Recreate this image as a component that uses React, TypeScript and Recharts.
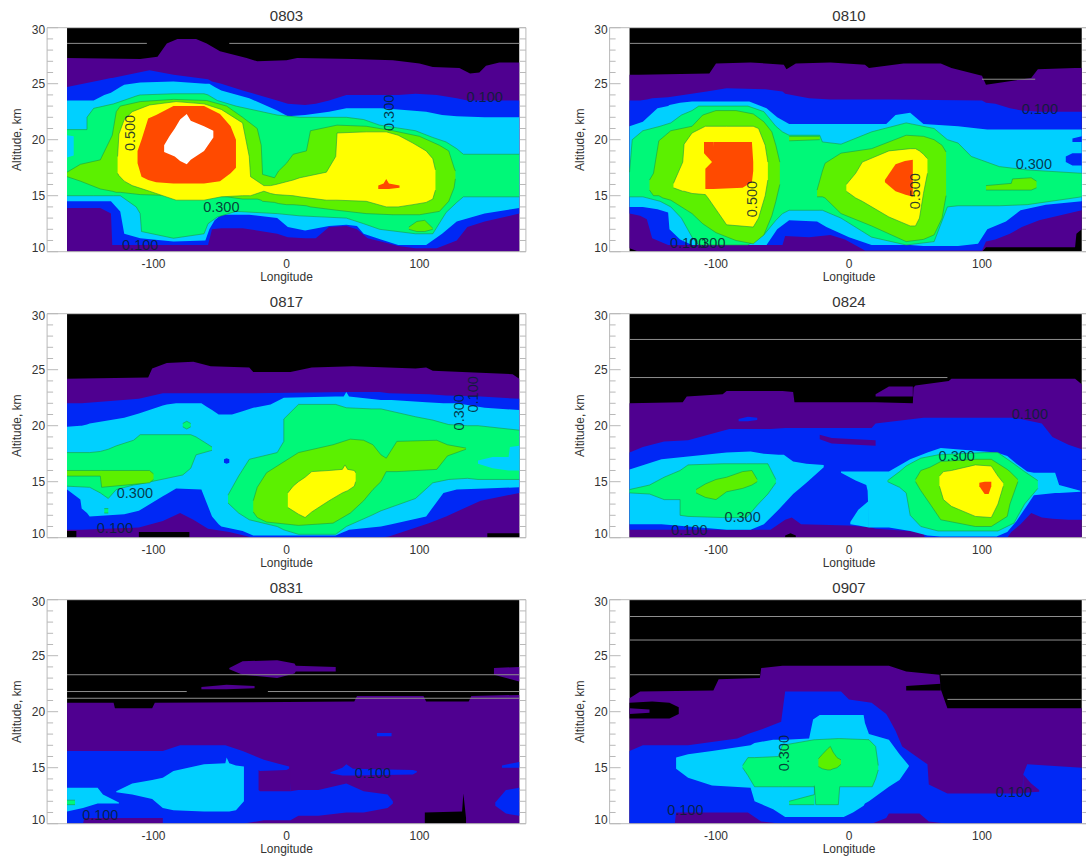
import React from "react";
import { ComposedChart, Area, Line, XAxis, YAxis, ReferenceDot } from "recharts";

type Pt = [number, number, number];

const BLACK = "#000000", PURPLE = "#4f0090", BLUE = "#0028f5", CYAN = "#00d0ff", SPRING = "#00f878", LIME = "#5cf000", YELLOW = "#ffff00", ORANGE = "#ff4a00", WHITE = "#ffffff";

const lonTicks = [-100, 0, 100];
const altTicks = [10, 11, 12, 13, 14, 15, 16, 17, 18, 19, 20, 21, 22, 23, 24, 25, 26, 27, 28, 29, 30];
const field: Pt[] = [[-165, 10, 30], [175, 10, 30]];

// ---- 0803
const a_purple: Pt[] = [[-165,10,27.3],[-110,10,27.2],[-97,10,27.4],[-90,10,28.6],[-82,10,29],[-68,10,29],[-60,10,28.6],[-50,10,27.9],[-30,10,27.3],[-22,10,27],[0,10,27.1],[8,10,27.3],[50,10,27.2],[80,10,27.1],[100,10,26.8],[110,10,26.5],[130,10,26.4],[138,10,25.9],[145,10,26],[150,10,26.6],[160,10,26.9],[175,10,26.9]];
const a_blue: Pt[] = [[-165,13.9,24.7],[-140,13.9,25.3],[-132,13.4,25.5],[-131,10.6,25.5],[-103,10.6,26.2],[-85,10.6,25.8],[-59,10.6,25.4],[-56,12,25.2],[-49,12.1,25],[-33,12.1,24.4],[-7,11.6,23.5],[1,11.3,23.2],[14,11.2,23.1],[22,11.2,23.2],[32,12.2,23.5],[45,12.3,24],[53,12,24],[61,11.2,24],[71,10.9,24],[84,10.5,24],[97,10.3,24.1],[113,10.3,24],[128,11,23.7],[136,12.2,23.5],[149,12.7,23.5],[175,13.4,23.5]];
const a_cyan: Pt[] = [[-165,14.5,23.5],[-145,14.5,23.5],[-137,14.5,24],[-132,14.5,24.2],[-125,13.6,24.7],[-122,11.6,24.9],[-110,11.2,25.1],[-85,10.9,25.2],[-61,11,25],[-58,12,25],[-54,12.8,24.7],[-49,13.3,24.4],[-28,13.3,23.7],[-7,13,22.6],[1,12.2,22.1],[14,11.9,22.2],[32,12.3,22.5],[45,12.4,22.8],[53,12.3,22.8],[58,11.6,22.8],[71,11.1,22.8],[84,10.6,22.7],[105,10.6,22.5],[117,11.6,22.2],[128,12.7,22.1],[149,13.4,22],[175,13.9,22]];
const a_spring: Pt[] = [[-165,15,20.9],[-150,15,20.9],[-150,15,22],[-145,15,22.8],[-130,15,23.2],[-125,15,23.4],[-113,14,23.9],[-110,13.4,24],[-109,11.8,24],[-85,11.2,24.1],[-62,11.6,24.1],[-59,12.5,24],[-52,13.1,23.5],[-38,13.6,23],[-7,13.4,22.2],[10,13.2,22],[45,13,22],[58,12.5,21.8],[70,12,21.3],[97,11.6,20.8],[110,11.6,20.2],[120,13.5,19.8],[128,14.4,19.2],[133,14.9,18.7],[175,14.9,18.7]];
const a_cyanNotch: Pt[] = [[-165,18.4,20.4],[-160,18.6,20.3]];
const a_limeMain: Pt[] = [[-165,16.7,17.1],[-155,16.3,17.8],[-140,15.6,18.2],[-131,15.4,20.4],[-128,15.3,22.5],[-125,15.3,23],[-110,15.1,23.4],[-85,15,23.6],[-60,15,23.5],[-45,14.9,23],[-33,14.7,22],[-22,14.7,21],[-19,14.6,19.5],[-18,14.5,16.9],[-9,14.4,16.6],[-6,14.3,17.2],[0,14.2,17.9],[5,14.2,18.7],[15,14.1,19],[18,14,20.8],[38,13.7,21.3],[60,13.4,21.2],[80,13.3,20.8],[100,13.3,20.3],[115,13.6,19.5],[122,14.5,19],[126,15.7,17.5],[127,16.5,17.2]];
const a_limeBlob: Pt[] = [[92,12,12.2],[98,11.8,12.7],[104,11.8,12.8],[110,12,12.1]];
const a_yellow: Pt[] = [[-127,17,18.5],[-126,16.8,20.5],[-122,16.3,21.8],[-116,15.9,22.5],[-103,15.4,23.1],[-83,14.6,23.4],[-62,14.6,23.2],[-49,14.9,22.7],[-33,15,21.5],[-28,15,18.5],[-27,15,16.7],[-17,15.4,15.9],[-12,15.2,15.9],[-8,15.1,16],[5,15,16.4],[10,14.9,16.6],[30,14.6,17.1],[37,14.6,18.5],[38,14.6,20.6],[60,14.5,20.7],[75,14,20.7],[84,14,20.4],[95,14.2,19.7],[105,14.4,19],[110,14.7,18.3],[112,15.5,17.3]];
const a_orange: Pt[] = [[-112,17.9,19],[-109,16.7,20],[-104,16.4,21.9],[-98,16.2,22.2],[-85,16.1,23],[-62,16.1,23],[-50,16.3,22.3],[-42,17,21.2],[-38,17.5,20]];
const a_orangeSmall: Pt[] = [[69,15.6,15.9],[73,15.6,16.1],[75,15.6,16.5],[77,15.6,16.1],[85,15.7,15.9]];
const a_white: Pt[] = [[-92,18.9,19.5],[-88,18.7,20.3],[-84,18.5,21],[-80,18.1,21.8],[-75,17.8,22.3],[-72,18.2,21.7],[-62,19,21.2],[-55,20.2,20.8]];
const a_streaks = [[-165,-105,28.6],[-43,175,28.6]];
const a_labels: [string, number, number, number][] = [["0.500",-118,20.6,-90],["0.300",77,22.4,-90],["0.300",-49,14,0],["0.100",149,23.8,0],["0.100",-110,10.6,0]];

// ---- 0810
const b_purple: Pt[] = [[-165,10.3,25.8],[-158,10,25.8],[-105,10,25.9],[-100,10,26.8],[-74,10,26.9],[-49,10,26.7],[-47,10,26.3],[-40,10,26.8],[-14,10,26.9],[12,10,26.7],[15,10,26.4],[41,10,26.8],[69,10,26.8],[77,10,26.4],[100,10,25.7],[103,10.4,24.9],[137,10.4,25.5],[142,10.4,26.3],[170,10.4,26.4],[171,11.6,26.4],[175,12,26.4]];
const b_blue: Pt[] = [[-165,13.4,23.5],[-157,13.2,23.5],[-152,12.9,23.6],[-148,11.2,23.7],[-136,10.6,23.8],[-107,10.6,24.3],[-92,10.6,24.6],[-63,10.6,24.5],[-50,10.6,24.3],[-48,11.4,24.1],[-30,11.3,23.7],[-14,11.5,23.6],[-3,11.1,23.6],[12,10.1,23.6],[30,10.1,23.6],[100,10.1,23.5],[103,10.9,23.3],[110,11.1,23.2],[121,11.6,22.8],[130,12.2,22.6],[143,12.8,22.5],[175,13.7,22.5]];
const b_cyan: Pt[] = [[-165,14,21.2],[-155,14,21.6],[-144,13.8,22.8],[-136,13.5,23],[-135,12,23.1],[-127,11.1,23.3],[-118,10.6,23.4],[-75,10.6,23.4],[-62,10.6,22.8],[-54,12,22],[-45,12.8,21.4],[-24,12.7,21.4],[-17,12.2,21.4],[0,11.3,21.4],[17,10.6,21.4],[28,10.6,21.4],[35,10.6,22.2],[46,10.6,22.4],[56,10.5,21.4],[82,10.5,21.2],[97,10.7,21],[104,12,20.9],[118,12.7,20.9],[129,13.7,20.9],[148,14.2,20.9],[175,14.5,20.9]];
const b_blueA: Pt[] = [[168,19.8,20.1],[175,19.8,20.3]];
const b_blueB: Pt[] = [[163,18,18.5],[168,17.7,18.8],[175,17.7,18.8]];
const b_spring: Pt[] = [[-165,14.9,17.1],[-163,14.9,20],[-155,14.9,20.8],[-142,14.5,21.2],[-134,14,21.5],[-126,13,22.2],[-118,11.3,22.6],[-113,10.6,23],[-76,10.6,23],[-64,11.5,22.5],[-55,12.8,21.2],[-50,13.4,20.7],[-45,13.7,20.4],[-22,13.7,20.4],[-20,13.7,19.8],[-6,13,19.6],[17,11.3,20.7],[43,10.6,21.5],[64,10.9,21],[74,14,20],[82,14.1,19.7],[92,14.1,18.5],[113,14.1,17.6],[134,14.2,17.3],[175,14.9,17]];
const b_lime1: Pt[] = [[-150,15.5,16.4],[-147,15,17],[-143,15,19.9],[-140,14.8,20.2],[-134,14.6,20.8],[-118,13.4,21.2],[-110,12.5,22.2],[-100,11.7,22.6],[-85,11,22.6],[-72,10.7,22.3],[-64,11.5,21.6],[-58,13.2,20.7],[-55,14.5,19.5],[-52,16,18]];
const b_limeStrip: Pt[] = [[-45,19.9,20.3],[-22,20,20.3]];
const b_lime2: Pt[] = [[-24,14.9,15.5],[-20,14.9,17.2],[-18,14.8,17.9],[-6,13.4,18.8],[17,12.3,19.2],[43,10.9,20.4],[56,11.1,20.3],[64,11.5,20],[70,13,19.5],[73,15,18.9]];
const b_lime3: Pt[] = [[103,15.5,15.9],[122,15.5,16.1],[123,15.5,16.5],[137,15.5,16.6],[141,15.7,16.3]];
const b_yellow1: Pt[] = [[-132,15.7,16.1],[-125,15.4,18],[-124,15.4,19.6],[-118,15.2,20.6],[-108,15.1,21.2],[-106,14.8,21.2],[-92,12.4,21.2],[-72,12.2,21.2],[-68,13,21],[-63,15,19.5],[-61,16.4,18]];
const b_yellow2: Pt[] = [[-2,15.4,16],[5,14.8,17],[10,14.5,18],[30,13.1,19],[46,12.3,19.2],[50,12.3,19.2],[53,13,19],[56,15.2,18.7],[59,17,18.3]];
const b_orangeTop: Pt[] = [[-109,18.8,19.8],[-103,18,19.8],[-102,17,19.8]];
const b_orangeMain: Pt[] = [[-108,15.6,17.4],[-103,15.6,18],[-102,15.6,19.8],[-80,15.7,19.8],[-76,16,19.8],[-73,16.2,19.8],[-72,17.2,18]];
const b_orange2: Pt[] = [[27,16.2,16.4],[35,15.4,17.8],[42,15.1,18.1],[48,14.9,18.2]];
const b_streaks = [[-165,175,28.6],[100,140,25.4]];
const b_labels: [string, number, number, number][] = [["0.100",143.5,22.7,0],["0.300",139,17.8,0],["0.500",-73,14.7,-90],["0.500",50,15.4,-90],["0.300",-106.5,10.8,0],["0.100",-121,10.8,0]];

// ---- 0817
const c_purple: Pt[] = [[-165,10,24.2],[-104,10,24.3],[-101,10,25.1],[-90,10,25.6],[-70,10,25.7],[-57,10,25.3],[-28,10,25.2],[-25,10,24.8],[3,10,24.8],[19,10,25.2],[50,10,25.3],[97,10,25.1],[105,10,25.2],[110,10,24.9],[150,10,24.7],[170,10,24.6],[175,10,24.2]];
const c_black1: Pt[] = [[-165,10,10.6],[-158,10,10.6]];
const c_black2: Pt[] = [[-111,10,10.5],[-73,10,10.5]];
const c_black3: Pt[] = [[151,10,10.4],[175,10,10.4]];
const c_blue: Pt[] = [[-165,10.7,22],[-154,10.7,22],[-111,10.9,22.4],[-93,11.5,22.9],[-80,12.2,22.9],[-70,11.6,22.9],[-59,10.8,22.9],[-43,10.5,22.9],[-25,10,22.9],[45,10,23],[70,10,23],[77,10.1,22.9],[107,11.3,22.8],[120,11.9,22.7],[146,13.3,22.6],[175,14,22.4]];
const c_cyan: Pt[] = [[-165,14.3,19.9],[-155,13.4,20],[-154,12.6,20],[-150,12.2,20.1],[-148,11.9,20.2],[-122,12.1,20.7],[-111,12.4,21.1],[-93,13.7,21.8],[-90,13.9,21.9],[-83,14.4,22],[-64,14.3,22],[-60,13.1,21.7],[-56,11.9,21.4],[-51,11.2,21],[-49,11,21],[-41,10.8,21],[-33,10.6,21.3],[-25,10.2,21.6],[-12,10.2,21.9],[-2,10.2,22.5],[37,10.2,22.6],[43,10.5,22.6],[45,10.6,23],[47,10.7,22.6],[71,11,22.3],[79,11.2,22.3],[105,11.9,22.1],[118,14,22],[128,14.3,22],[149,14.4,21.6],[175,14.5,21.4]];
const c_springL: Pt[] = [[-165,14.6,17.6],[-148,14.5,17.6],[-140,14,17.7],[-134,13.5,17.9],[-128,14.3,18.2],[-115,14.7,18.7],[-110,14.8,19.2],[-78,15.6,19.2],[-72,16.2,19.2],[-68,17.4,19],[-56,17.8,18.1]];
const c_springDot: Pt[] = [[-78,19.9,20.2],[-75,19.7,20.4],[-72,19.9,20.2]];
const c_springDot2: Pt[] = [[-137,12.2,12.6],[-134,12.2,12.6]];
const c_blueDot: Pt[] = [[-47,16.7,17],[-45,16.6,17.1],[-43,16.7,17]];
const c_limeL: Pt[] = [[-165,15.5,16],[-140,15.5,16],[-139,14.5,16],[-103,14.9,16],[-100,15.2,15.7]];
const c_springR: Pt[] = [[-44,13.1,13.8],[-36,12.2,15.5],[-28,11.6,17],[-7,11,17.6],[-2,10.7,18.6],[-2,10.7,20.6],[9,10.3,21.9],[37,10.3,21.9],[45,11,21.6],[64,12,21.5],[71,12.4,21.5],[97,13.5,20.8],[110,14.9,20.5],[122,15.2,20.1],[136,15.3,20],[144,15.2,20],[175,15.2,19.6]];
const c_cyanNotch: Pt[] = [[144,16.6,16.9],[155,16.2,17.2],[167,16,17.2],[168,16,18.1],[175,16,18.2]];
const c_limeR: Pt[] = [[-25,12.3,13.3],[-22,11.8,14.5],[-15,11.4,15.8],[9,11.1,17.6],[35,11.3,18.3],[48,12.2,18.8],[58,13.3,18.7],[65,14.3,18.3],[71,15,17.4],[75,15.9,17.1],[83,15.9,18.6],[113,16.1,18.7],[121,17.3,18.3],[135,17.9,18]];
const c_yellow: Pt[] = [[1,12.7,14],[5,12.4,14.6],[9,12.1,15],[14,11.8,15.4],[19,12.3,15.9],[32,13.3,16],[42,14,16.1],[44,14.1,16.5],[46,14.2,16.1],[51,14.6,16],[52,15,15.8]];
const c_labels: [string, number, number, number][] = [["0.300",130,21.2,-90],["0.100",140,22.8,-90],["0.300",-114,14,0],["0.100",-129,10.9,0]];

// ---- 0824
const d_purple: Pt[] = [[-165,10,22],[-125,10,22.1],[-122,10,22.6],[-95,10,22.8],[-92,10,23.1],[-50,10,23.1],[-42,10,23],[-41,10,22.1],[20,10,22.1],[48,10,22],[48.5,10,23.4],[50,10,23.6],[75,10,24],[77,10,24.2],[170,10,24.2],[175,10,23.7]];
const d_purpleTop: Pt[] = [[20,22.6,22.8],[30,22.6,23.5],[48,22.6,23.5]];
const d_blackFoot: Pt[] = [[-48,10,10.2],[-44,10,10.4],[-40,10,10.2]];
const d_blue: Pt[] = [[-165,10.7,17.6],[-155,10.7,18.1],[-139,10.7,18.6],[-121,10.7,18.7],[-90,10.7,19.7],[-59,10.7,19.7],[-48,11.6,19.8],[-43,11.8,19.8],[-36,11.2,19.8],[0,11.1,19.8],[17,10.9,19.8],[20,10.8,20.2],[56,10.5,20.7],[57,10,20.7],[119,10,20.7],[122,10.5,20.7],[129,11.2,20.6],[137,12.2,20.4],[145,11.8,20.2],[153,11.7,19],[165,11.6,18.3],[175,11.6,17.9]];
const d_purpleIn: Pt[] = [[-22,18.8,19.2],[-13,18.4,18.9],[20,18.2,18.7]];
const d_bluePatch: Pt[] = [[-83,20.4,20.6],[-76,20.4,20.8],[-69,20.5,20.7]];
const d_cyanL: Pt[] = [[-165,11.2,16.1],[-141,11.2,17],[-92,10.7,17.6],[-74,10.7,17.7],[-64,11.2,17.5],[-53,12.5,17.4],[-49,13,17.4],[-42,13.9,16.8],[-32,14.9,16.6],[-19,16.3,16.5]];
const d_springL: Pt[] = [[-165,14,14.3],[-150,13.9,14.7],[-139,13.4,15.4],[-127,13.4,16],[-127,12,16],[-121,11.9,16.5],[-95,11.8,16.6],[-77,11.8,16.6],[-69,12.9,16.6],[-61,13.9,16.6],[-55,14.9,15.2]];
const d_limeL: Pt[] = [[-115,14,14.3],[-108,13.6,14.8],[-100,13.4,15.2],[-92,14.1,15.4],[-80,14.4,15.9],[-73,14.7,16],[-69,15,15.2]];
const d_cyanRLow: Pt[] = [[1,11.2,11.4],[7,11.1,12.5],[15,10.9,13.3]];
const d_cyanR: Pt[] = [[-6,15.8,15.9],[5,15.1,15.9],[13,14.7,15.9],[14,14.2,15.9],[15,10.9,15.9],[30,10.9,15.9],[46,10.6,17],[59,10.2,17.6],[69,10.1,18],[111,10.1,17.6],[119,10.5,17.3],[126,11.5,16.6],[134,12.9,15.9],[139,13.8,15.8],[155,14,15.8],[158,14,14.7],[174,14.1,14.2]];
const d_springR: Pt[] = [[29,15,15.1],[38,14.5,15.9],[43,14,16.4],[46,12,16.6],[54,11,17.1],[67,10.6,17.4],[102,10.6,17.6],[112,10.6,17.6],[124,11.3,16.6],[132,13,15.9],[142,14.4,15.1]];
const d_limeR: Pt[] = [[50,15,15.2],[54,14.2,16],[61,13,16.3],[69,11.6,16.8],[95,11,17],[107,11,17],[119,11.9,16.1],[121,13,15.9],[127,15,15.2]];
const d_yellow: Pt[] = [[68,14.6,15.5],[71,13.4,15.9],[77,12.8,16],[95,11.9,16.5],[107,11.8,16.4],[112,13,15.5],[116,14.6,14.9]];
const d_orange: Pt[] = [[98,14.6,14.9],[102,13.9,15],[105,13.9,15],[107,14.6,15]];
const d_streaks = [[-165,175,27.7],[-165,74,24.3]];
const d_labels: [string, number, number, number][] = [["0.100",136,21,0],["0.300",81,17.3,0],["0.300",-80,11.85,0],["0.100",-120,10.65,0]];

// ---- 0831
const e_purple: Pt[] = [[-165,10,20.8],[-130,10,20.8],[-129,10,20.3],[-101,10,20.3],[-99,10,20.8],[51,10,20.9],[53,10,21.4],[103,10,21.4],[105,10,20.9],[137,10,20.9],[139,10,21.4],[175,10,21.5]];
const e_purpleB: Pt[] = [[-43,23.8,23.9],[-33,23.3,24.5],[-7,23,24.6],[6,23.4,24.3],[7,23.6,24.1],[37,23.6,24]];
const e_purpleC: Pt[] = [[-64,22,22.2],[-45,22,22.4],[-24,22.1,22.3]];
const e_purpleD: Pt[] = [[156,23.3,23.9],[175,22.7,24]];
const e_blackFoot: Pt[] = [[104,10,11],[132,10,11.1],[133,10,12.7],[135,10,10.5]];
const e_blue: Pt[] = [[-165,10,16.5],[-153,10,16.5],[-152,10.5,16.5],[-93,10.5,16.5],[-93,10,16.5],[-80,10,17],[-46,10,17],[-33,10,16.5],[-17,10.3,15.7],[2,10.3,15.1],[3,10.3,12.9],[9,10.7,13],[24,10.7,13],[45,11,13.6],[58,11,12.9],[76,11.4,12.6],[80,11.8,12]];
const e_notch: Pt[] = [[-21,13,14.8],[-20,12.9,14.7],[0,12.9,14.8],[3,12.9,15]];
const e_blueMid: Pt[] = [[33,14.5,14.6],[42,14.3,15],[45,14.3,15.3],[50,14.3,14.9],[95,14.4,14.8],[98,14.6,14.7]];
const e_blueR: Pt[] = [[157,11.6,11.9],[165,10.9,13],[175,10.7,13.2]];
const e_blueR2: Pt[] = [[162,15,15.2],[170,15,15.4],[175,15,15.5]];
const e_blueR3: Pt[] = [[68,17.8,18.1],[79,17.8,18.1]];
const e_cyan: Pt[] = [[-128,12.8,12.9],[-116,12.6,13.6],[-101,12.2,13.9],[-93,11.4,14.1],[-85,11.2,14.7],[-62,11.1,15.3],[-46,11.1,15.4],[-45,11.1,15.9],[-43,11.1,15.4],[-38,11.2,15.2],[-32,12,15.1]];
const e_cyanL: Pt[] = [[-165,11.1,13.2],[-153,11.4,13.2],[-142,11.8,13.2],[-138,11.8,12.6],[-126,11.8,11.9]];
const e_spring: Pt[] = [[-165,11.7,12.1],[-159,11.7,12.1]];
const e_streaks = [[-165,175,23.3],[-165,-75,21.8],[-14,175,21.8],[-165,175,21.2]];
const e_labels: [string, number, number, number][] = [["0.100",65,14.5,0],["0.100",-140,10.8,0]];

// ---- 0907
const f_purple: Pt[] = [[-165,10,21.2],[-157,10,21.8],[-102,10,21.9],[-98,10,22.9],[-67,10,23],[-66,10,23.9],[-50,10,24.1],[30,10,24.1],[43,10,23.6],[68,10,23.3],[69,10,22],[74,10,20.3],[175,10,20.3]];
const f_blackIn: Pt[] = [[-165,19.4,20.8],[-148,19.4,20.9],[-135,19.4,20.8],[-128,19.8,20.4]];
const f_finger: Pt[] = [[-165,19.8,20.3],[-150,19.9,20.2]];
const f_blackTail: Pt[] = [[43,21.9,22.3],[69,21.9,22.5]];
const f_blue: Pt[] = [[-165,10,16.5],[-155,10,17],[-131,10,17],[-130,11,17],[-121,11,17],[-84,11,17.6],[-76,11,18],[-66,10.2,18.4],[-51,10,19.1],[-48,10,21.8],[-6,10,21.8],[0,10,21.1],[17,10,20.8],[28,10.5,19.8],[30,10.9,19.4],[35,10.9,18.3],[40,10.9,16.9],[53,10.9,15.8],[59,10.3,15.3],[60,10.2,13.5],[74,10,12.7],[130.5,10,12.7],[131,10,14.4],[134,10,15.3],[175,10,15]];
const f_purpleIn: Pt[] = [[131,12.75,14.4],[137,12.8,13.6],[143,12.85,13]];
const f_cyan: Pt[] = [[-130,14.9,15.9],[-121,14.1,16.2],[-103,13.4,16.5],[-74,13.2,17],[-71,12,17.2],[-57,11.3,17.5],[-48,10.6,17.5],[-30,10.6,17.6],[-27,10.6,19.3],[-22,10.6,19.7],[-4,10.6,19.7],[3,11,19.7],[11,11.6,19.7],[12,11.8,19],[15,12,18],[30,13.3,17.5],[38,13.9,16.2],[45,15.1,15.2]];
const f_spring: Pt[] = [[-80,15,15.2],[-76,14.3,15.9],[-71,13.3,15.9],[-53,13.3,16],[-50,13.3,17],[-26,13.3,17.5],[-25,11.7,17.5],[-8,11.7,17.6],[-7,13.3,17.6],[15,13.3,17.5],[17.5,13.3,17.2],[20,14,16.9],[22,14.8,15.2]];
const f_springLow: Pt[] = [[-45,11.7,12],[-26,11.7,12.6],[-26,11.7,13.4]];
const f_lime: Pt[] = [[-23,15.1,15.8],[-20,14.9,16.2],[-16,14.8,16.7],[-14,14.8,16.9],[-12,14.9,16.4],[-9,15,15.9],[-6,15.3,15.7]];
const f_streaks = [[-165,175,28.5],[-165,175,26.4],[-165,-67,23.3],[69,175,23.3],[74,175,21.1]];
const f_labels: [string, number, number, number][] = [["0.300",-49,16.3,-90],["0.100",-123,11.2,0],["0.100",124,12.8,0]];

type Layer = [string, Pt[]];
type Panel = { title: string; left: number; top: number; layers: Layer[]; streaks: number[][]; labels: [string, number, number, number][] };

const panels: Panel[] = [
  { title: "0803", left: 0, top: 0, streaks: a_streaks, labels: a_labels, layers: [[BLACK, field],[PURPLE, a_purple],[BLUE, a_blue],[CYAN, a_cyan],[SPRING, a_spring],[CYAN, a_cyanNotch],[LIME, a_limeMain],[LIME, a_limeBlob],[YELLOW, a_yellow],[ORANGE, a_orange],[ORANGE, a_orangeSmall],[WHITE, a_white]] },
  { title: "0810", left: 1, top: 0, streaks: b_streaks, labels: b_labels, layers: [[BLACK, field],[PURPLE, b_purple],[BLUE, b_blue],[CYAN, b_cyan],[BLUE, b_blueA],[BLUE, b_blueB],[SPRING, b_spring],[LIME, b_lime1],[LIME, b_limeStrip],[LIME, b_lime2],[LIME, b_lime3],[YELLOW, b_yellow1],[YELLOW, b_yellow2],[ORANGE, b_orangeTop],[ORANGE, b_orangeMain],[ORANGE, b_orange2]] },
  { title: "0817", left: 0, top: 1, streaks: [], labels: c_labels, layers: [[BLACK, field],[PURPLE, c_purple],[BLACK, c_black1],[BLACK, c_black2],[BLACK, c_black3],[BLUE, c_blue],[CYAN, c_cyan],[SPRING, c_springL],[SPRING, c_springDot],[SPRING, c_springDot2],[BLUE, c_blueDot],[LIME, c_limeL],[SPRING, c_springR],[CYAN, c_cyanNotch],[LIME, c_limeR],[YELLOW, c_yellow]] },
  { title: "0824", left: 1, top: 1, streaks: d_streaks, labels: d_labels, layers: [[BLACK, field],[PURPLE, d_purple],[PURPLE, d_purpleTop],[BLACK, d_blackFoot],[BLUE, d_blue],[PURPLE, d_purpleIn],[BLUE, d_bluePatch],[CYAN, d_cyanL],[SPRING, d_springL],[LIME, d_limeL],[CYAN, d_cyanRLow],[CYAN, d_cyanR],[SPRING, d_springR],[LIME, d_limeR],[YELLOW, d_yellow],[ORANGE, d_orange]] },
  { title: "0831", left: 0, top: 2, streaks: e_streaks, labels: e_labels, layers: [[BLACK, field],[PURPLE, e_purple],[PURPLE, e_purpleB],[PURPLE, e_purpleC],[PURPLE, e_purpleD],[BLACK, e_blackFoot],[BLUE, e_blue],[PURPLE, e_notch],[BLUE, e_blueMid],[BLUE, e_blueR],[BLUE, e_blueR2],[BLUE, e_blueR3],[CYAN, e_cyan],[CYAN, e_cyanL],[SPRING, e_spring]] },
  { title: "0907", left: 1, top: 2, streaks: f_streaks, labels: f_labels, layers: [[BLACK, field],[PURPLE, f_purple],[BLACK, f_blackIn],[PURPLE, f_finger],[BLACK, f_blackTail],[BLUE, f_blue],[PURPLE, f_purpleIn],[CYAN, f_cyan],[SPRING, f_spring],[SPRING, f_springLow],[LIME, f_lime]] },
];

const FONT = "'Liberation Sans', Arial, sans-serif";
const AXIS = "#b9b9b9";
const TEXT = "#333333";
const rowTops = [0, 286.3, 572.3];
const contoured = [SPRING, LIME, YELLOW];

const toRows = (pts: Pt[]) => pts.map(([lon, lo, hi]) => ({ lon, range: [lo, hi] }));

function PanelChart({ p }: { p: Panel }) {
  const isRight = p.left === 1;
  const mLeft = isRight ? 66.6 : 47.1;
  const W = mLeft + 478.8 + 2;
  const leftTick = (t: any) => {
    const v = t.payload.value;
    const major = v % 5 === 0;
    const dy = v === 30 ? 2.3 : v === 10 ? -3.7 : 0;
    return (
      <g>
        <line x1={mLeft} x2={mLeft + (major ? 11 : 6)} y1={t.y} y2={t.y} stroke={AXIS} strokeWidth={1} />
        {major ? <text x={mLeft - 2} y={t.y + dy + 4.3} textAnchor="end" fontSize={12} fontFamily={FONT} fill={TEXT}>{v}</text> : null}
      </g>
    );
  };
  const rightTick = (t: any) => (
    <line x1={mLeft + 478.8} x2={mLeft + 478.8 - 6} y1={t.y} y2={t.y} stroke={AXIS} strokeWidth={1} />
  );
  const bottomTick = (t: any) => (
    <text x={t.x} y={268} textAnchor="middle" fontSize={12} fontFamily={FONT} fill={TEXT}>{t.payload.value}</text>
  );
  return (
    <div style={{ position: "absolute", left: isRight ? 543 : 0, top: rowTops[p.top], width: W, height: 292 }}>
      <ComposedChart width={W} height={292} margin={{ top: 26.7, left: mLeft - 1, right: 1, bottom: 39.3 }}>
        <XAxis dataKey="lon" type="number" domain={[-180, 180]} ticks={lonTicks} interval={0} height={1} tickLine={false} tick={bottomTick} axisLine={{ stroke: AXIS }} allowDataOverflow allowDuplicatedCategory />
        <XAxis xAxisId="top" dataKey="lon" type="number" orientation="top" domain={[-180, 180]} ticks={lonTicks} height={1} tickLine={false} tick={false} axisLine={{ stroke: AXIS }} allowDataOverflow />
        <YAxis type="number" domain={[10, 30]} ticks={altTicks} interval={0} width={1} tickLine={false} tick={leftTick} axisLine={{ stroke: AXIS }} allowDataOverflow />
        <YAxis yAxisId="right" orientation="right" type="number" domain={[10, 30]} ticks={altTicks} interval={0} width={1} tickLine={false} tick={rightTick} axisLine={{ stroke: AXIS }} allowDataOverflow />
        {p.layers.map(([color, pts], i) => (
          <Area
            key={i}
            data={toRows(pts)}
            dataKey="range"
            type="linear"
            fill={color}
            fillOpacity={1}
            stroke={contoured.includes(color) ? "#1c9a45" : "none"}
            strokeWidth={0.6}
            dot={false}
            activeDot={false}
            isAnimationActive={false}
          />
        ))}
        {p.streaks.map((s, i) => (
          <Line
            key={"s" + i}
            data={[{ lon: s[0], alt: s[2] }, { lon: s[1], alt: s[2] }]}
            dataKey="alt"
            stroke="#8f8f8f"
            strokeWidth={1}
            dot={false}
            activeDot={false}
            isAnimationActive={false}
          />
        ))}
        {p.labels.map(([txt, lon, alt, rot], i) => (
          <ReferenceDot
            key={"l" + i}
            x={lon}
            y={alt}
            r={0}
            ifOverflow="visible"
            shape={(d: any) => (
              <text
                x={d.cx}
                y={d.cy}
                textAnchor="middle"
                dominantBaseline="central"
                fontSize={14.5}
                fontFamily={FONT}
                fill="#06202e"
                fillOpacity={0.85}
                transform={rot ? `rotate(${rot} ${d.cx} ${d.cy})` : undefined}
              >
                {txt}
              </text>
            )}
          />
        ))}
        <ReferenceDot x={0} y={30} r={0} ifOverflow="visible" shape={(d: any) => (
          <text x={d.cx} y={d.cy - 7} textAnchor="middle" fontSize={15} fontFamily={FONT} fill={TEXT}>{p.title}</text>
        )} />
        <ReferenceDot x={0} y={10} r={0} ifOverflow="visible" shape={(d: any) => (
          <text x={d.cx} y={d.cy + 29} textAnchor="middle" fontSize={12} fontFamily={FONT} fill={TEXT}>Longitude</text>
        )} />
        <ReferenceDot x={-180} y={20} r={0} ifOverflow="visible" shape={(d: any) => (
          <text x={d.cx - 26} y={d.cy} textAnchor="middle" fontSize={12} fontFamily={FONT} fill={TEXT} transform={`rotate(-90 ${d.cx - 26} ${d.cy})`}>Altitude, km</text>
        )} />
      </ComposedChart>
    </div>
  );
}

export default function App() {
  return (
    <div style={{ position: "absolute", left: 0, top: 0, width: 1086, height: 861, overflow: "hidden", background: "#fff" }}>
      {panels.map((p) => (
        <PanelChart key={p.title} p={p} />
      ))}
    </div>
  );
}
